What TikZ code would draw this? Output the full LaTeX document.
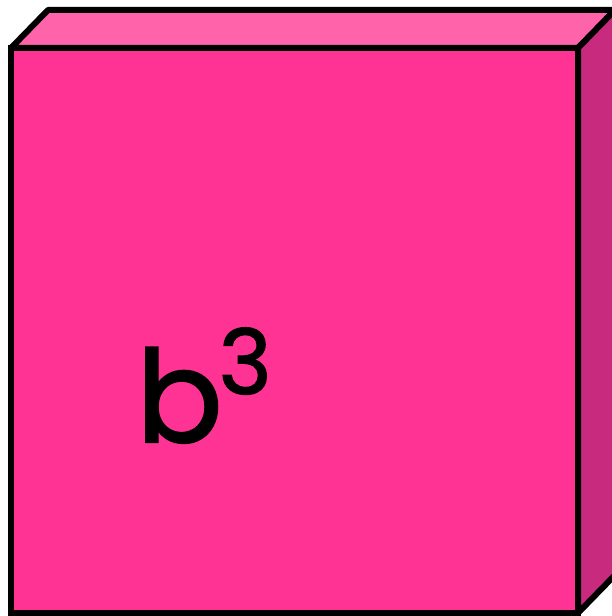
\documentclass[tikz,border=0pt]{standalone}
\usepackage{fontspec}
\newfontfamily\cubefont[FakeBold=1.6]{Poppins}
\definecolor{cubefront}{RGB}{255,51,148}
\definecolor{cubetop}{RGB}{255,100,170}
\definecolor{cubeside}{RGB}{200,42,125}
\begin{document}
\begin{tikzpicture}[x=1pt,y=1pt]
        % page size of the reference
        \useasboundingbox (0,0) rectangle (612,616);
        \clip (0,0) rectangle (612,616);
        \tikzset{edge/.style={draw=black, line width=6pt, line join=bevel}}
        
        % front face corners
        \coordinate (fbl) at (11,3);
        \coordinate (fbr) at (578,3);
        \coordinate (ftr) at (578,568);
        \coordinate (ftl) at (11,568);
        % back corners (depth 37,38)
        \coordinate (btl) at (48,606);
        \coordinate (btr) at (615,606);
        \coordinate (bbr) at (615,41);
        
        % top face
        \filldraw[cubetop, edge] (ftl) -- (btl) -- (btr) -- (ftr) -- cycle;
        % side face
        \filldraw[cubeside, edge] (ftr) -- (btr) -- (bbr) -- (fbr) -- cycle;
        % front face
        \filldraw[cubefront, edge, line join=miter] (fbl) rectangle (ftr);
        
        \node[font=\cubefont\fontsize{128}{128}\selectfont, anchor=base west, inner sep=0pt] (lbl) at (136,174)
            {b\kern-4pt\raisebox{48pt}{\fontsize{90}{90}\selectfont 3}};
        
    \end{tikzpicture}
\end{document}
